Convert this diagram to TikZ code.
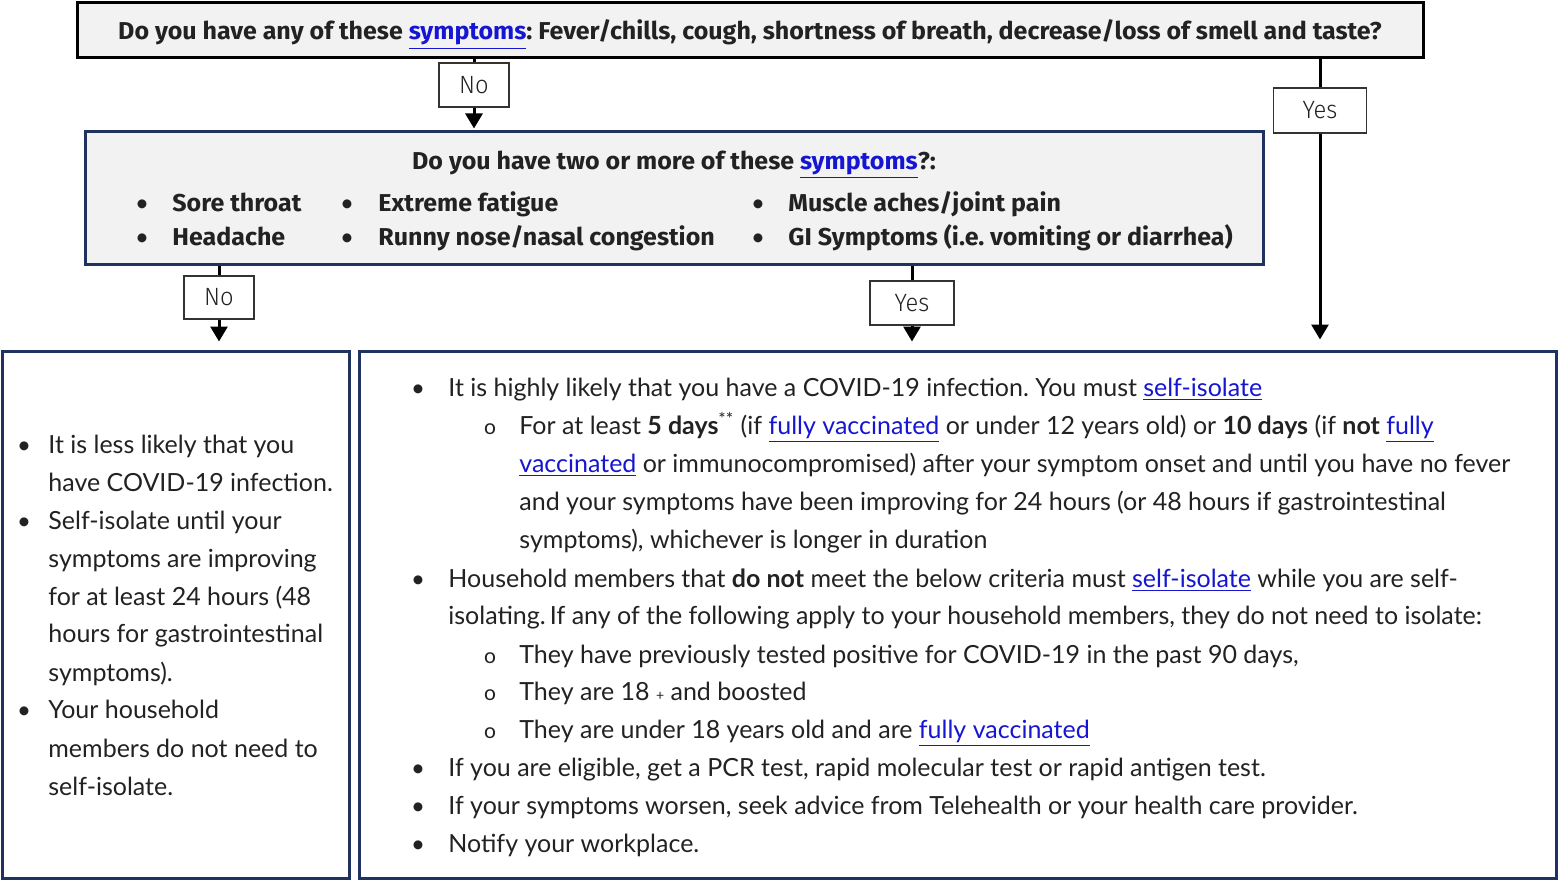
\documentclass[tikz,border=0pt]{standalone}
\usepackage{fontspec}
\setmainfont{Lato}
\newfontfamily\hdfont{Fira Sans}[FakeStretch=1.025]
\newfontfamily\lbfont{Fira Sans Light}[FakeStretch=0.95]
\usetikzlibrary{arrows.meta}
\definecolor{navy}{RGB}{31,50,96}
\definecolor{boxgray}{RGB}{242,242,242}
\definecolor{linkblue}{RGB}{22,22,210}
\definecolor{txt}{RGB}{34,34,34}
\newcommand\lnk[1]{\textcolor{linkblue}{\underline{#1}}}
\newcommand\bul{\textbullet}
\newcommand\subb{{\fontsize{10.5}{10}\selectfont o}}
\frenchspacing
\tikzset{
  qbox/.style={draw=black, line width=1.5pt, fill=boxgray, inner sep=0pt},
  nbox/.style={draw=navy, line width=1.5pt, inner sep=0pt},
  lab/.style={draw=black!80, fill=white, line width=0.7pt, inner sep=0pt,
    font=\lbfont\fontsize{12.5}{12}\selectfont, text=txt},
  arr/.style={line width=1.5pt, -{Triangle[width=8.5pt,length=7.5pt]}},
  plain/.style={line width=1.5pt},
  body/.style={anchor=base west, inner sep=0pt, text=txt,
    font=\frenchspacing\fontsize{12.5}{14}\selectfont},
  hd/.style={anchor=base west, inner sep=0pt, text=txt,
    font=\hdfont\bfseries\fontsize{12.2}{14}\selectfont},
  hdc/.style={anchor=base, inner sep=0pt, text=txt,
    font=\hdfont\bfseries\fontsize{12.2}{14}\selectfont},
  dot/.style={anchor=base, inner sep=0pt, text=txt, font=\fontsize{12}{14}\selectfont},
}
\begin{document}
\begin{tikzpicture}[x=0.5pt,y=-0.5pt]
\fill[white] (0,0) rectangle (1558,882);
\useasboundingbox (0,0) rectangle (1558,882);
% boxes
\node[qbox, minimum width=673pt, minimum height=27.5pt] (q1) at (750,30.5) {};
\node[hdc] (q1t) at (750,40) {Do you have any of these \lnk{symptoms}: Fever/chills, cough, shortness of breath, decrease/loss of smell and taste?};
\node[nbox, fill=boxgray, minimum width=589pt, minimum height=66.5pt] (q2) at (674,198.5) {};
\node[hdc] (q2t) at (674,169.5) {Do you have two or more of these \lnk{symptoms}?:};
\node[dot] at (142,211.5) {\bul};
\node[hd] (s1) at (172,211.5) {Sore throat};
\node[dot] at (142,245.5) {\bul};
\node[hd] (s2) at (172,245.5) {Headache};
\node[dot] at (347,211.5) {\bul};
\node[hd] (s3) at (378,211.5) {Extreme fatigue};
\node[dot] at (347,245.5) {\bul};
\node[hd] (s4) at (378,245.5) {Runny nose/nasal congestion};
\node[dot] at (758,211.5) {\bul};
\node[hd] (s5) at (788,211.5) {Muscle aches/joint pain};
\node[dot] at (758,245.5) {\bul};
\node[hd] (s6) at (788,245.5) {GI Symptoms (i.e. vomiting or diarrhea)};
\node[nbox, fill=white, minimum width=173.5pt, minimum height=263.5pt] (lb) at (175.5,614.5) {};
\node[nbox, fill=white, minimum width=598.5pt, minimum height=263.5pt] (rb) at (957.5,614.5) {};
% labels
\node[lab, minimum width=35pt, minimum height=22pt] (no1) at (474,85) {No};
\node[lab, minimum width=46.5pt, minimum height=22.5pt] (yes1) at (1320,110.5) {Yes};
\node[lab, minimum width=35pt, minimum height=21.5pt] (no2) at (219,297.5) {No};
\node[lab, minimum width=42pt, minimum height=22pt] (yes2) at (912,303) {Yes};
% connectors
\draw[plain] (q1.south -| no1) -- (no1.north);
\draw[arr, shorten >=1pt] (no1.south) -- (no1.south |- q2.north);
\draw[plain] (q1.south -| yes1) -- (yes1.north);
\draw[arr, shorten >=5pt] (yes1.south) -- (yes1.south |- rb.north);
\draw[plain] (q2.south -| no2) -- (no2.north);
\draw[arr, shorten >=4pt] (no2.south) -- (no2.south |- lb.north);
\draw[plain] (q2.south -| yes2) -- (yes2.north);
\draw[arr, shorten >=4pt] (yes2.south) -- (yes2.south |- rb.north);
% left text
\foreach \yy in {444,520,709} \node[dot] at (24,\yy+9) {\bul};
\node[body] (l1) at (48,453) {It is less likely that you};
\node[body] (l2) at (48,491) {have COVID-19 infection.};
\node[body] (l3) at (48,529) {Self-isolate until your};
\node[body] (l4) at (48,567) {symptoms are improving};
\node[body] (l5) at (48,605) {for at least 24 hours (48};
\node[body] (l6) at (48,642) {hours for gastrointestinal};
\node[body] (l7) at (48,681) {symptoms).};
\node[body] (l8) at (48,718) {Your household};
\node[body] (l9) at (48,757) {members do not need to};
\node[body] (l10) at (48,795) {self-isolate.};
% right text
\foreach \yy in {387,578,767,805,843} \node[dot] at (418,\yy+9) {\bul};
\foreach \yy in {425,654,691,729} \node[dot] at (490,\yy+9) {\subb};
\node[body] (r1) at (448,396) {It is highly likely that you have a COVID-19 infection. You must \lnk{self-isolate}};
\node[body] (r2) at (519,434) {For at least \textbf{5 days}\textsuperscript{**} (if \lnk{fully vaccinated} or under 12 years old) or \textbf{10 days} (if \textbf{not} \lnk{fully}};
\node[body] (r3) at (519,472) {\lnk{vaccinated} or immunocompromised) after your symptom onset and until you have no fever};
\node[body] (r4) at (519,510) {and your symptoms have been improving for 24 hours (or 48 hours if gastrointestinal};
\node[body] (r5) at (519,548) {symptoms), whichever is longer in duration};
\node[body] (r6) at (448,587) {Household members that \textbf{do not} meet the below criteria must \lnk{self-isolate} while you are self-};
\node[body] (r7) at (448,624) {isolating.\,If any of the following apply to your household members, they do not need to isolate:};
\node[body] (r8) at (519,663) {They have previously tested positive for COVID-19 in the past 90 days,};
\node[body] (r9) at (519,700) {They are 18 {\scriptsize +} and boosted};
\node[body] (r10) at (519,738) {They are under 18 years old and are \lnk{fully vaccinated}};
\node[body] (r11) at (448,776) {If you are eligible, get a PCR test, rapid molecular test or rapid antigen test.};
\node[body] (r12) at (448,814) {If your symptoms worsen, seek advice from Telehealth or your health care provider.};
\node[body] (r13) at (448,852) {Notify your workplace.};
\end{tikzpicture}
\end{document}
